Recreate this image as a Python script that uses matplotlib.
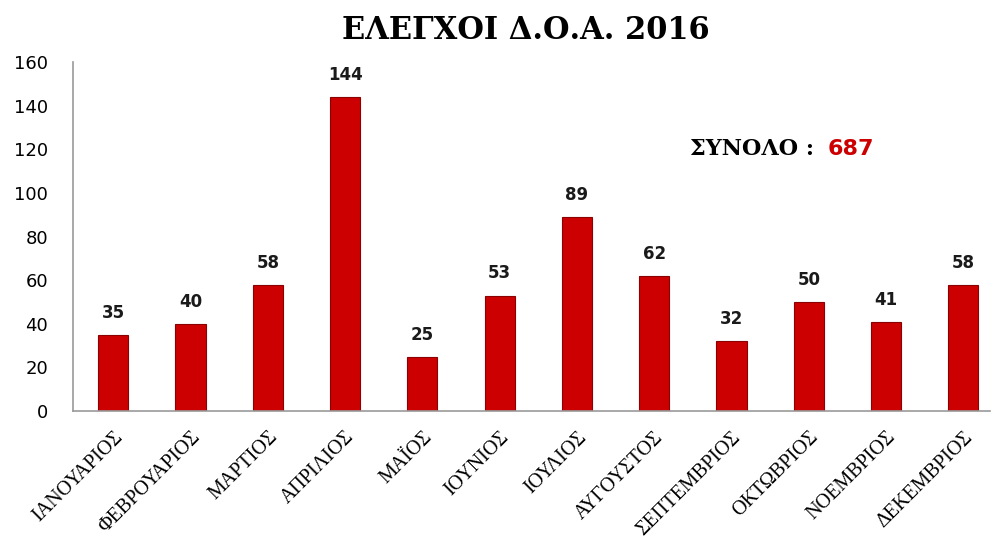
import numpy as np
import matplotlib
matplotlib.use('Agg')
import matplotlib.pyplot as plt

months = ['ΙΑΝΟΥΑΡΙΟΣ', 'ΦΕΒΡΟΥΑΡΙΟΣ', 'ΜΑΡΤΙΟΣ', 'ΑΠΡΙΛΙΟΣ', 'ΜΑΪΟΣ',
          'ΙΟΥΝΙΟΣ', 'ΙΟΥΛΙΟΣ', 'ΑΥΓΟΥΣΤΟΣ', 'ΣΕΠΤΕΜΒΡΙΟΣ', 'ΟΚΤΩΒΡΙΟΣ',
          'ΝΟΕΜΒΡΙΟΣ', 'ΔΕΚΕΜΒΡΙΟΣ']
counts = [35, 40, 58, 144, 25, 53, 89, 62, 32, 50, 41, 58]
yticks = [0, 20, 40, 60, 80, 100, 120, 140, 160]
total = 687

fig = plt.figure(figsize=(9.95, 5.36), dpi=100)
ax = fig.add_axes([0.0734, 0.233, 0.922, 0.651])

x = np.arange(len(months))
ax.bar(x, counts, width=0.39, color='#cc0000', edgecolor='#8b0000', linewidth=0.8)

for xi, v in zip(x, counts):
    ax.text(xi, v + 6, str(v), ha='center', va='bottom', fontsize=12,
            fontweight='bold', family='DejaVu Sans', color='#1a1a1a')

ax.set_xlim(-0.52, 11.35)
ax.set_ylim(0, 160)
ax.set_yticks(yticks)
ax.set_yticklabels([str(t) for t in yticks], fontsize=13, family='DejaVu Sans')
ax.set_xticks(x)
ax.set_xticklabels(months, rotation=45, ha='right', rotation_mode='anchor',
                   fontsize=14.5, family='Liberation Serif')
ax.tick_params(axis='both', length=0)
ax.tick_params(axis='y', pad=18)
ax.tick_params(axis='x', pad=12)

for s in ['top', 'right']:
    ax.spines[s].set_visible(False)
for s in ['left', 'bottom']:
    ax.spines[s].set_color('#9a9a9a')
    ax.spines[s].set_linewidth(1.2)

fig.text(0.528, 0.943, 'ΕΛΕΓΧΟΙ Δ.Ο.Α. 2016', ha='center', va='center',
         fontsize=22, fontweight='bold', family='DejaVu Serif')

ax.text(0.672, 0.752, 'ΣΥΝΟΛΟ :', transform=ax.transAxes, ha='left', va='center',
        fontsize=16, fontweight='bold', family='DejaVu Serif')
ax.text(0.822, 0.752, str(total), transform=ax.transAxes, ha='left', va='center',
        fontsize=16, fontweight='bold', family='DejaVu Sans', color='#cc0000')

fig.savefig('out.png', dpi=100)
